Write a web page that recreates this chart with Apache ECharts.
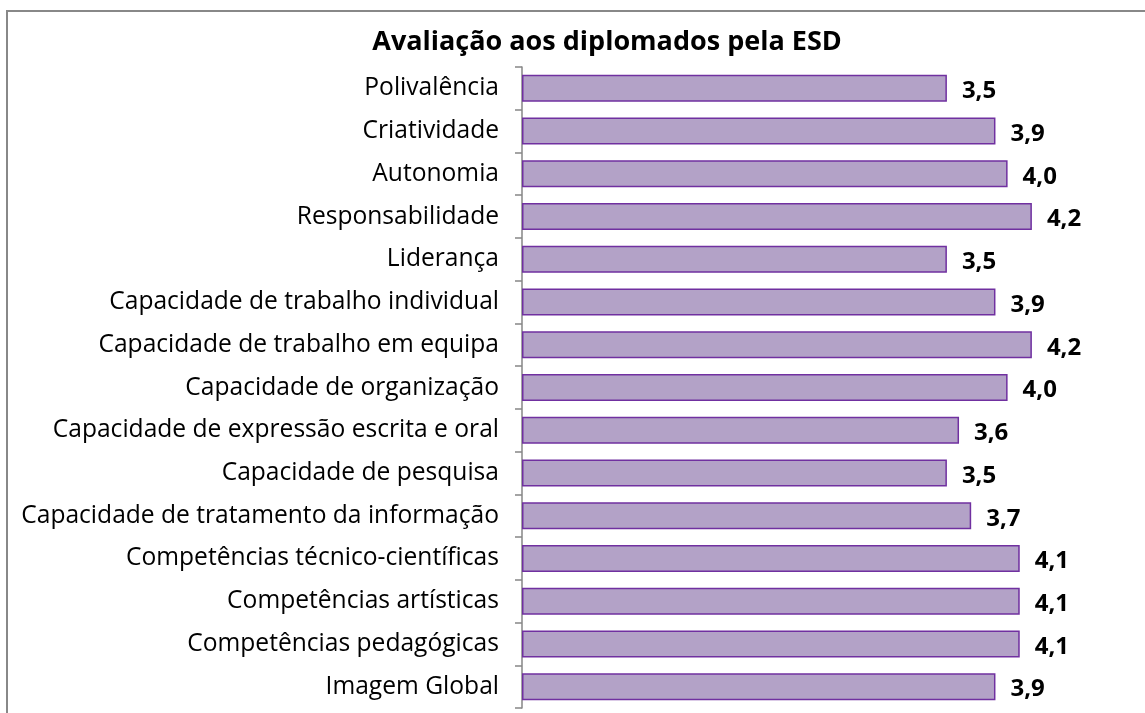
<!DOCTYPE html>
<html>
<head>
<meta charset="utf-8">
<script src="https://cdn.jsdelivr.net/npm/echarts@6/dist/echarts.min.js"></script>
<style>
  html, body { margin: 0; padding: 0; background: #fff; }
  #chart { width: 1145px; height: 713px; }
</style>
</head>
<body>
<div id="chart"></div>
<script>
// categorias (de cima para baixo)
var categorias = [
  "Polivalência",
  "Criatividade",
  "Autonomia",
  "Responsabilidade",
  "Liderança",
  "Capacidade de trabalho individual",
  "Capacidade de trabalho em equipa",
  "Capacidade de organização",
  "Capacidade de expressão escrita e oral",
  "Capacidade de pesquisa",
  "Capacidade de tratamento da informação",
  "Competências técnico-científicas",
  "Competências artísticas",
  "Competências pedagógicas",
  "Imagem Global"
];
var valores = [3.5, 3.9, 4.0, 4.2, 3.5, 3.9, 4.2, 4.0, 3.6, 3.5, 3.7, 4.1, 4.1, 4.1, 3.9];
var titulo = "Avaliação aos diplomados pela ESD";

var fonte = "'Open Sans', 'Noto Sans', sans-serif";

var myChart = echarts.init(document.getElementById("chart"));
myChart.setOption({
  animation: false,
  title: {
    text: titulo,
    left: 602,
    top: 24,
    textAlign: "center",
    textStyle: { fontFamily: fonte, fontWeight: "bold", fontSize: 27, color: "#000" }
  },
  graphic: [{
    type: "rect",
    shape: { x: 7, y: 11, width: 1400, height: 900 },
    style: { fill: null, stroke: "#888888", lineWidth: 2 },
    silent: true
  }],
  grid: { left: 522, right: 16, top: 67, bottom: 5 },
  xAxis: {
    type: "value",
    min: 0,
    max: 5,
    show: false
  },
  yAxis: {
    type: "category",
    inverse: true,
    data: categorias,
    axisLine: { show: true, lineStyle: { color: "#868686", width: 1.5 } },
    axisTick: { show: true, length: 7, lineStyle: { color: "#868686", width: 1.5 } },
    axisLabel: { margin: 23, color: "#000", fontFamily: fonte, fontSize: 24.6, padding: [6, 0, 0, 0] }
  },
  series: [{
    type: "bar",
    data: valores,
    barWidth: 27,
    itemStyle: { color: "#B3A2C7", borderColor: "#7030A0", borderWidth: 1.5 },
    label: {
      show: true,
      position: "right",
      distance: 15,
      offset: [0, 3],
      fontFamily: fonte,
      fontWeight: "bold",
      fontSize: 24,
      color: "#000",
      formatter: function (p) { return p.value.toFixed(1).replace(".", ","); }
    }
  }]
});
</script>
</body>
</html>
